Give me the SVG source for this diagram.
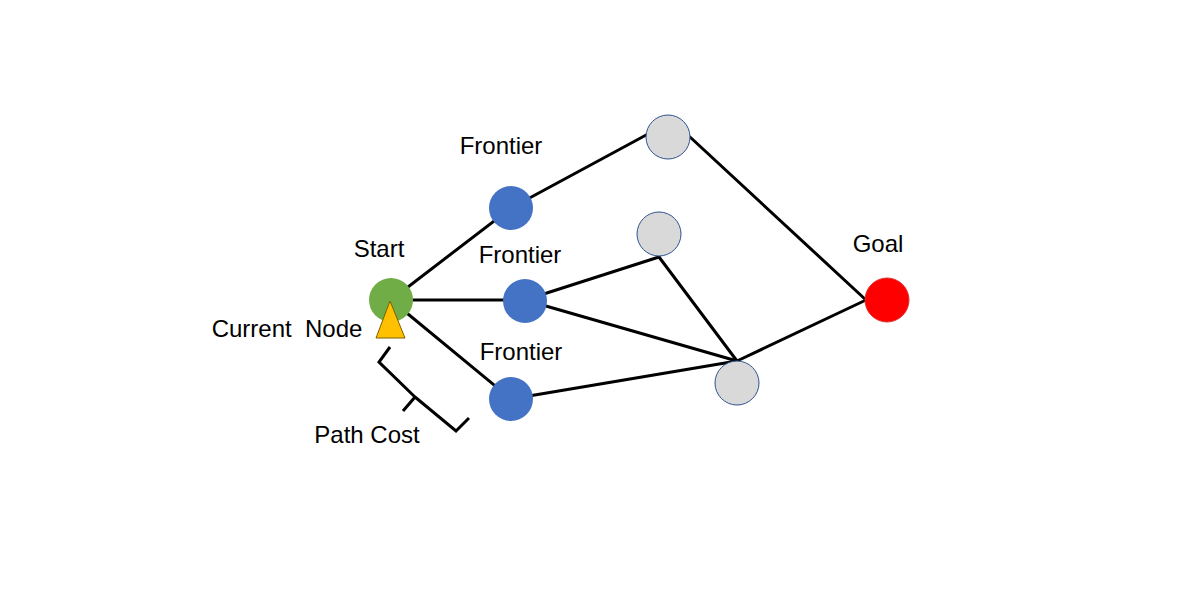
<svg xmlns="http://www.w3.org/2000/svg" width="1200" height="600" viewBox="0 0 1200 600">
<style>
.e{stroke:#000;stroke-width:3;fill:none;stroke-linecap:round}
.t{font-family:"Liberation Sans",Arial,sans-serif;font-size:24px;fill:#000;text-anchor:middle;white-space:pre}
.blue{fill:#4472C4}
.gray{fill:#D9D9D9;stroke:#2F528F;stroke-width:1}
</style>
<rect width="1200" height="600" fill="#fff"/>
<g id="connectors">
<line class="e" x1="391" y1="300" x2="511" y2="208"/>
<line class="e" x1="391" y1="300" x2="525" y2="300"/>
<line class="e" x1="391" y1="300" x2="511" y2="399"/>
<line class="e" x1="511" y1="208" x2="648" y2="134"/>
<line class="e" x1="690" y1="137" x2="866" y2="300"/>
<line class="e" x1="525" y1="300" x2="659" y2="257"/>
<line class="e" x1="525" y1="300" x2="737" y2="361"/>
<line class="e" x1="659" y1="257" x2="737" y2="361"/>
<line class="e" x1="511" y1="399" x2="737" y2="361"/>
<line class="e" x1="737" y1="361" x2="866" y2="300"/>
</g>
<g id="start">
<circle cx="391" cy="300" r="22" fill="#70AD47"/>
<text class="t" x="379" y="257">Start</text>
</g>
<g id="current">
<polygon points="390,301 376,338 405,338" fill="#FFC000" stroke="#7F6000" stroke-width="1"/>
<text class="t" x="287" y="337" xml:space="preserve">Current  Node</text>
</g>
<g id="frontier1">
<circle class="blue" cx="511" cy="208" r="22"/>
<text class="t" x="501" y="154">Frontier</text>
</g>
<g id="frontier2">
<circle class="blue" cx="525" cy="301" r="22"/>
<text class="t" x="520" y="263">Frontier</text>
</g>
<g id="frontier3">
<circle class="blue" cx="511" cy="399" r="22"/>
<text class="t" x="521" y="360">Frontier</text>
</g>
<g id="gray1"><circle class="gray" cx="668" cy="137" r="22"/></g>
<g id="gray2"><circle class="gray" cx="659" cy="234" r="22"/></g>
<g id="gray3"><circle class="gray" cx="737" cy="383" r="22"/></g>
<g id="goal">
<circle cx="887" cy="300" r="22" fill="#FF0000" stroke="#E03030" stroke-width="1"/>
<text class="t" x="878" y="252">Goal</text>
</g>
<g id="pathcost">
<path d="M390,347 L379,362 L415,397 L403,411 M415,397 L456,431 L469,418" stroke="#000" stroke-width="3" fill="none" stroke-linejoin="miter"/>
<text class="t" x="367" y="443">Path Cost</text>
</g>
</svg>
